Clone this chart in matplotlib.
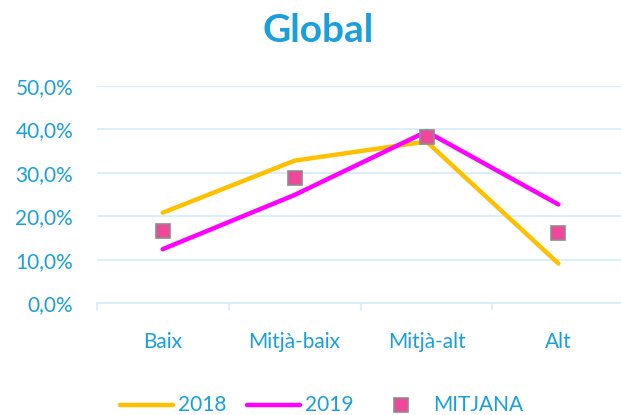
import matplotlib
matplotlib.use("Agg")
import matplotlib.pyplot as plt
from matplotlib.lines import Line2D
from matplotlib.ticker import FuncFormatter, FixedLocator

categories = ["Baix", "Mitjà-baix", "Mitjà-alt", "Alt"]
s2018 = [0.208, 0.328, 0.372, 0.091]
s2019 = [0.124, 0.249, 0.395, 0.227]
mitjana = [0.166, 0.287, 0.383, 0.161]
yticks = [0.0, 0.1, 0.2, 0.3, 0.4, 0.5]

BLUE = "#1A9FDD"
GRID = "#D8EEF9"
plt.rcParams['font.family'] = ['Lato', 'DejaVu Sans']

W, H = 621, 415
fig = plt.figure(figsize=(W / 100, H / 100), dpi=100)
left = 96.75 / W
bottom = (H - 303) / H
top = (H - 86) / H
ax = fig.add_axes([left, bottom, 1 - left, top - bottom])

x = list(range(len(categories)))
ax.plot(x, s2018, color="#FFC000", lw=3.2, solid_capstyle="round", zorder=3)
ax.plot(x, s2019, color="#FF00FF", lw=3.2, solid_capstyle="round", zorder=3)
ax.plot(x, mitjana, ls="none", marker="s", ms=9.5, mfc="#F0479B",
        mec="#8C8C8C", mew=1.2, zorder=4)

ax.set_ylim(0, 0.5)
ax.set_xlim(-0.5, (W - 96.75) / 131.9 - 0.5)
ax.set_yticks(yticks)
ax.yaxis.set_major_formatter(FuncFormatter(lambda v, p: f"{v*100:.1f}%".replace(".", ",")))
ax.set_xticks(x)
ax.set_xticklabels(categories)
ax.xaxis.set_minor_locator(FixedLocator([-0.5, 0.5, 1.5, 2.5]))
ax.grid(axis="y", color=GRID, lw=1.3)
ax.set_axisbelow(True)
for s in ["top", "right", "left"]:
    ax.spines[s].set_visible(False)
ax.spines["bottom"].set_color(GRID)
ax.spines["bottom"].set_linewidth(1.3)
ax.tick_params(axis="y", length=0, pad=17, labelsize=15, labelcolor=BLUE)
ax.tick_params(axis="x", which="major", length=0, pad=21, labelsize=15, labelcolor=BLUE)
ax.tick_params(axis="x", which="minor", length=5, width=1.3, color=GRID)

fig.text(318 / W, 1 - 30 / H, "Global", ha="center", va="center",
         fontsize=28, fontweight="bold", color=BLUE)

ly = 1 - 405 / H
fig.add_artist(Line2D([120 / W, 173 / W], [ly, ly], color="#FFC000", lw=3.2,
                      solid_capstyle="round", transform=fig.transFigure))
fig.text(178 / W, ly, "2018", ha="left", va="center", fontsize=15, color=BLUE)
fig.add_artist(Line2D([247 / W, 300 / W], [ly, ly], color="#FF00FF", lw=3.2,
                      solid_capstyle="round", transform=fig.transFigure))
fig.text(305 / W, ly, "2019", ha="left", va="center", fontsize=15, color=BLUE)
fig.add_artist(Line2D([401 / W], [ly], ls="none", marker="s", ms=9.5, mfc="#F0479B",
                      mec="#8C8C8C", mew=1.2, transform=fig.transFigure))
fig.text(433 / W, ly, "MITJANA", ha="left", va="center", fontsize=15, color=BLUE)

fig.savefig("out.png", dpi=100)
